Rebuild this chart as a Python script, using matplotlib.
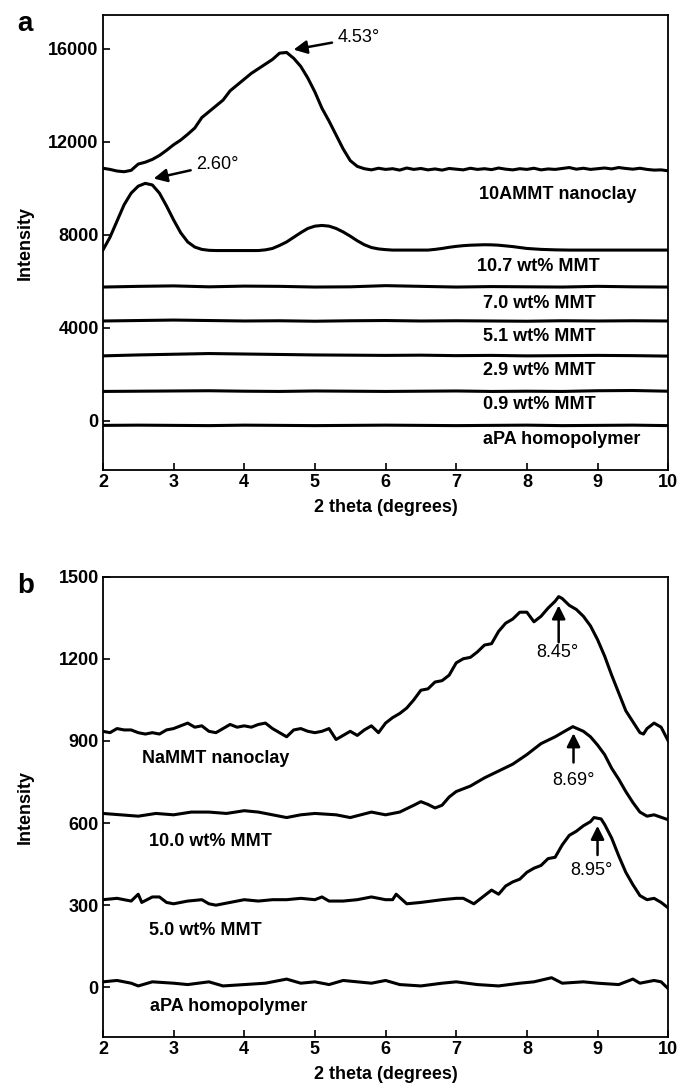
import numpy as np
import matplotlib.pyplot as plt

plt.rcParams['font.family'] = ['Liberation Sans', 'DejaVu Sans']
plt.rcParams['font.weight'] = 'bold'

# ---- panel a: 10AMMT series ----
x_a = np.round(np.arange(2.0, 10.01, 0.1), 2)

nano_10a = [10870, 10820, 10750, 10720, 10780, 11050, 11130, 11250, 11420, 11640,   # 2.0-2.9
            11880, 12080, 12330, 12600, 13050, 13300, 13550, 13800, 14200, 14450,   # 3.0-3.9
            14700, 14950, 15150, 15350, 15550, 15820, 15850, 15600, 15250, 14750,   # 4.0-4.9
            14150, 13450, 12900, 12300, 11700, 11200, 10950, 10850, 10800, 10870,   # 5.0-5.9
            10820, 10850, 10790, 10880, 10820, 10860, 10800, 10840, 10790, 10860,   # 6.0-6.9
            10830, 10800, 10870, 10820, 10850, 10810, 10880, 10830, 10800, 10850,   # 7.0-7.9
            10820, 10870, 10800, 10840, 10820, 10860, 10900, 10830, 10870, 10820,   # 8.0-8.9
            10850, 10880, 10840, 10900, 10860, 10830, 10870, 10820, 10790, 10800,   # 9.0-9.9
            10760]
mmt_107 = [7350, 7900, 8600, 9300, 9800, 10100, 10220, 10150, 9800, 9250,
           8650, 8100, 7700, 7480, 7380, 7340, 7330, 7330, 7330, 7330,
           7330, 7330, 7330, 7360, 7420, 7550, 7700, 7900, 8100, 8280,
           8380, 8410, 8380, 8280, 8130, 7950, 7750, 7580, 7460, 7400,
           7370, 7350, 7350, 7350, 7350, 7350, 7350, 7380, 7420, 7470,
           7510, 7540, 7560, 7570, 7580, 7575, 7560, 7530, 7500, 7460,
           7420, 7400, 7380, 7370, 7360, 7355, 7350, 7350, 7350, 7350,
           7350, 7350, 7350, 7350, 7350, 7350, 7350, 7350, 7350, 7350,
           7350]

x_flat = [2.0, 2.5, 3.0, 3.5, 4.0, 4.5, 5.0, 5.5, 6.0, 6.5, 7.0, 7.5, 8.0, 8.5, 9.0, 9.5, 10.0]
mmt_70 = [5760, 5790, 5810, 5770, 5800, 5790, 5760, 5770, 5820, 5790, 5760, 5780, 5770, 5760, 5790, 5770, 5760]
mmt_51 = [4300, 4320, 4340, 4320, 4300, 4310, 4290, 4310, 4320, 4300, 4310, 4300, 4290, 4310, 4300, 4310, 4300]
mmt_29 = [2800, 2840, 2870, 2900, 2880, 2860, 2840, 2830, 2820, 2830, 2810, 2820, 2800, 2810, 2820, 2810, 2790]
mmt_09 = [1270, 1280, 1290, 1300, 1280, 1270, 1290, 1280, 1270, 1280, 1290, 1270, 1280, 1270, 1300, 1310, 1280]
apa_a = [-190, -180, -190, -200, -180, -190, -200, -190, -180, -190, -200, -190, -180, -200, -190, -180, -200]

labels_a = ['10AMMT nanoclay', '10.7 wt% MMT', '7.0 wt% MMT', '5.1 wt% MMT',
            '2.9 wt% MMT', '0.9 wt% MMT', 'aPA homopolymer']
label_x_a = [7.32, 7.30, 7.38, 7.38, 7.38, 7.38, 7.38]
label_y_a = [9730, 6660, 5060, 3625, 2180, 705, -815]

# ---- panel b: NaMMT series ----
x_b = [2.0, 2.1, 2.2, 2.3, 2.4, 2.5, 2.6, 2.7, 2.8, 2.9, 3.0, 3.1, 3.2, 3.3, 3.4, 3.5,
       3.6, 3.7, 3.8, 3.9, 4.0, 4.1, 4.2, 4.3, 4.4, 4.5, 4.6, 4.7, 4.8, 4.9, 5.0, 5.1,
       5.2, 5.3, 5.4, 5.5, 5.6, 5.7, 5.8, 5.9, 6.0, 6.1, 6.2, 6.3, 6.4, 6.5, 6.6, 6.7,
       6.8, 6.9, 7.0, 7.1, 7.2, 7.3, 7.4, 7.5, 7.6, 7.7, 7.8, 7.9, 8.0, 8.1, 8.2, 8.3,
       8.4, 8.45, 8.5, 8.6, 8.7, 8.8, 8.9, 9.0, 9.1, 9.2, 9.3, 9.4, 9.5, 9.6, 9.65, 9.7,
       9.8, 9.9, 10.0]
nammt = [935, 930, 945, 940, 940, 930, 925, 930, 925, 940, 945, 955, 965, 950, 955, 935,
         930, 945, 960, 950, 955, 950, 960, 965, 945, 930, 915, 940, 945, 935, 930, 935,
         945, 905, 920, 935, 920, 940, 955, 930, 965, 985, 1000, 1020, 1050, 1085, 1090, 1115,
         1120, 1140, 1185, 1200, 1205, 1225, 1250, 1255, 1300, 1330, 1345, 1370, 1370, 1335, 1355, 1385,
         1410, 1427, 1420, 1395, 1380, 1355, 1320, 1270, 1210, 1140, 1075, 1010, 970, 930, 925, 945,
         965, 950, 900]

x_b10 = [2.0, 2.25, 2.5, 2.75, 3.0, 3.25, 3.5, 3.75, 4.0, 4.2, 4.5, 4.6, 4.8, 5.0, 5.3, 5.5,
         5.8, 6.0, 6.2, 6.4, 6.5, 6.6, 6.7, 6.8, 6.9, 7.0, 7.2, 7.4, 7.6, 7.8, 8.0, 8.2,
         8.4, 8.5, 8.65, 8.8, 8.9, 9.0, 9.1, 9.2, 9.3, 9.4, 9.5, 9.6, 9.7, 9.8, 10.0]
mmt_100 = [635, 630, 625, 635, 630, 640, 640, 635, 645, 640, 625, 620, 630, 635, 630, 620,
           640, 630, 640, 665, 678, 668, 655, 665, 695, 715, 735, 765, 790, 815, 850, 890,
           915, 930, 952, 935, 915, 885, 850, 800, 760, 715, 675, 640, 625, 630, 612]

x_b5 = [2.0, 2.2, 2.4, 2.5, 2.55, 2.7, 2.8, 2.9, 3.0, 3.2, 3.4, 3.5, 3.6, 3.8, 4.0, 4.2,
        4.4, 4.6, 4.8, 5.0, 5.1, 5.2, 5.4, 5.6, 5.8, 6.0, 6.1, 6.15, 6.3, 6.5, 6.8, 7.0,
        7.1, 7.25, 7.4, 7.5, 7.6, 7.7, 7.8, 7.9, 8.0, 8.1, 8.2, 8.3, 8.4, 8.5, 8.6, 8.7,
        8.8, 8.9, 8.95, 9.05, 9.1, 9.2, 9.3, 9.4, 9.5, 9.6, 9.7, 9.8, 9.9, 10.0]
mmt_50 = [320, 325, 315, 340, 310, 330, 330, 310, 305, 315, 320, 305, 300, 310, 320, 315,
          320, 320, 325, 320, 330, 315, 315, 320, 330, 320, 320, 340, 305, 310, 320, 325,
          325, 305, 335, 355, 340, 370, 385, 395, 420, 435, 445, 470, 475, 520, 555, 570,
          590, 605, 620, 615, 595, 545, 480, 420, 375, 335, 320, 325, 310, 290]

x_b0 = [2.0, 2.2, 2.4, 2.5, 2.7, 3.0, 3.2, 3.5, 3.7, 4.0, 4.3, 4.6, 4.8, 5.0, 5.2, 5.4,
        5.6, 5.8, 6.0, 6.2, 6.5, 6.8, 7.0, 7.3, 7.6, 7.9, 8.1, 8.35, 8.5, 8.8, 9.0, 9.3,
        9.5, 9.6, 9.8, 9.9, 10.0]
apa_b = [20, 25, 15, 5, 20, 15, 10, 20, 5, 10, 15, 30, 15, 20, 10, 25,
         20, 15, 25, 10, 5, 15, 20, 10, 5, 15, 20, 35, 15, 20, 15, 10,
         30, 15, 25, 20, -5]

labels_b = ['NaMMT nanoclay', '10.0 wt% MMT', '5.0 wt% MMT', 'aPA homopolymer']
label_x_b = [2.55, 2.65, 2.65, 2.67]
label_y_b = [836, 534, 209, -69]

# peak markers in panel b: arrow x, tail y, head y, text x, text y, text
peaks_b = [(8.45, 1250, 1405, 8.43, 1222, '8.45°'),
           (8.66, 811, 938, 8.66, 756, '8.69°'),
           (9.0, 473, 600, 8.92, 428, '8.95°')]


def style_axes(ax):
    ax.set_xlim(2, 10)
    ax.set_xticks(range(2, 11))
    ax.tick_params(direction='in', length=5, width=1.2, labelsize=13, pad=3,
                   top=False, right=False)
    for s in ax.spines.values():
        s.set_linewidth(1.3)
    ax.set_xlabel('2 theta (degrees)', fontsize=13, fontweight='bold', labelpad=6)
    ax.set_ylabel('Intensity', fontsize=13, fontweight='bold')
    ax.yaxis.set_label_coords(-0.122, 0.5)


fig = plt.figure(figsize=(6.77, 10.9), dpi=100)
ax1 = fig.add_axes([0.152, 0.569, 0.835, 0.417])
ax2 = fig.add_axes([0.152, 0.049, 0.835, 0.422])

lw = 2.2
arrow = dict(arrowstyle='-|>', color='black', lw=1.8, mutation_scale=20)

ax1.plot(x_a, nano_10a, color='black', lw=lw)
ax1.plot(x_a, mmt_107, color='black', lw=lw)
for series in [mmt_70, mmt_51, mmt_29, mmt_09, apa_a]:
    ax1.plot(x_flat, series, color='black', lw=lw)
for lab, lx, ly in zip(labels_a, label_x_a, label_y_a):
    ax1.text(lx, ly, lab, fontsize=13, fontweight='bold', va='center')
ax1.set_ylim(-2100, 17450)
ax1.set_yticks([0, 4000, 8000, 12000, 16000])
ax1.annotate('4.53°', xy=(4.66, 15950), xytext=(5.32, 16480), fontsize=13,
             fontweight='normal', va='center', arrowprops=arrow)
ax1.annotate('2.60°', xy=(2.68, 10400), xytext=(3.32, 11040), fontsize=13,
             fontweight='normal', va='center', arrowprops=arrow)
style_axes(ax1)

ax2.plot(x_b, nammt, color='black', lw=lw)
ax2.plot(x_b10, mmt_100, color='black', lw=lw)
ax2.plot(x_b5, mmt_50, color='black', lw=lw)
ax2.plot(x_b0, apa_b, color='black', lw=lw)
for lab, lx, ly in zip(labels_b, label_x_b, label_y_b):
    ax2.text(lx, ly, lab, fontsize=13, fontweight='bold', va='center')
ax2.set_ylim(-180, 1500)
ax2.set_yticks([0, 300, 600, 900, 1200, 1500])
for px, tail, head, tx, ty, txt in peaks_b:
    ax2.annotate('', xy=(px, head), xytext=(px, tail), arrowprops=arrow)
    ax2.text(tx, ty, txt, fontsize=13, fontweight='normal', ha='center', va='center')
style_axes(ax2)

fig.text(0.025, 0.978, 'a', fontsize=20, fontweight='bold', va='center')
fig.text(0.025, 0.462, 'b', fontsize=20, fontweight='bold', va='center')

fig.savefig('out.png', dpi=100)
